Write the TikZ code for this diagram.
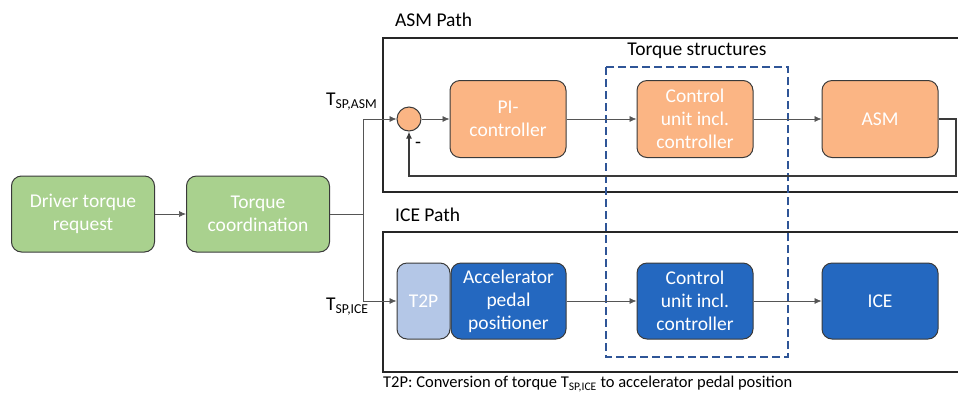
\documentclass[tikz,border=0pt]{standalone}
\usepackage{fontspec}
\setmainfont{Carlito}
\usetikzlibrary{arrows.meta}
\definecolor{orfill}{HTML}{FBB584}
\definecolor{grfill}{HTML}{A9D18E}
\definecolor{blfill}{HTML}{2468C0}
\definecolor{ltblue}{HTML}{B4C7E7}
\definecolor{dashblue}{HTML}{2F5597}
\definecolor{edge}{HTML}{3A3A3A}
\definecolor{conn}{HTML}{555555}
\tikzset{
  blk/.style={draw=edge, line width=1pt, rounded corners=10pt, text=white, align=center,
     font=\fontsize{19.5}{23}\selectfont, inner sep=0pt},
  orblk/.style={blk, fill=orfill, minimum width=116pt, minimum height=77pt},
  grblk/.style={blk, fill=grfill, minimum width=143pt, minimum height=76pt},
  blblk/.style={blk, fill=blfill, minimum width=116pt, minimum height=76pt},
  arr/.style={draw=conn, line width=0.7pt, -{Latex[length=7pt,width=6pt]}},
  ln/.style={draw=conn, line width=0.7pt},
  frame/.style={draw=black!85, line width=1.8pt},
  lbl/.style={font=\fontsize{19.5}{23}\selectfont, inner sep=0pt},
}
\begin{document}
\begin{tikzpicture}[x=1pt,y=-1pt]
\useasboundingbox (0,0) rectangle (958,392);
% path frames
\draw[frame] (958,38) -- (383,38) -- (383,192) -- (958,192);
\draw[frame] (958,232) -- (383,232) -- (383,372) -- (958,372);
\node[lbl, anchor=west] (asmlbl) at (395,20) {ASM Path};
\node[lbl, anchor=west] (icelbl) at (395,215) {ICE Path};
% dashed torque structures
\draw[draw=dashblue, line width=1.5pt, dash pattern=on 8pt off 4pt] (606,67) rectangle (788,357);
\node[lbl] (tslbl) at (697,51) {Torque structures};
% left blocks
\node[grblk] (drv) at (83,214) {Driver torque\\request};
\node[grblk] (coord) at (258,214) {Torque\\coordination};
% ASM path
\node[draw=edge, line width=1pt, fill=orfill, circle, minimum size=24pt, inner sep=0pt] (sum) at (409,119) {};
\node[orblk] (pi) at (508,119) {PI-\\controller};
\node[orblk] (cu1) at (695,119) {Control\\unit incl.\\controller};
\node[orblk] (asm) at (880,119) {ASM};
% ICE path
\node[blk, fill=ltblue, minimum width=53pt, minimum height=76pt] (t2p) at (423.5,301) {T2P};
\node[blblk, minimum width=115pt] (acc) at (508.5,301) {Accelerator\\pedal\\positioner};
\node[blblk] (cu2) at (695,301) {Control\\unit incl.\\controller};
\node[blblk] (ice) at (880,301) {ICE};
% connectors
\coordinate (j) at (363,214);
\coordinate (fb1) at (956,119);
\coordinate (fb2) at (956,176);
\draw[arr] (drv) -- (coord);
\draw[ln] (coord) -- (j);
\draw[arr] (j) |- (sum);
\draw[arr] (j) |- (t2p);
\draw[arr] (sum) -- (pi);
\draw[arr] (pi) -- (cu1);
\draw[arr] (cu1) -- (asm);
\draw[draw=edge, line width=1.3pt, -{Latex[length=7pt,width=6pt]}] (asm.east) -- (fb1) -- (fb2) -| (sum.south);
\draw[arr] (acc) -- (cu2);
\draw[arr] (cu2) -- (ice);
% labels
\node[lbl, anchor=west] (tasm) at (326,102) {T\textsubscript{SP,ASM}};
\node[lbl, anchor=west] (tice) at (326,307) {T\textsubscript{SP,ICE}};
\node[lbl] (minus) at (418,145) {-};
\node[anchor=west, inner sep=0pt, font=\fontsize{16.5}{19}\selectfont] (note) at (383,384) {T2P: Conversion of torque T\textsubscript{SP,ICE} to accelerator pedal position};
\end{tikzpicture}
\end{document}
